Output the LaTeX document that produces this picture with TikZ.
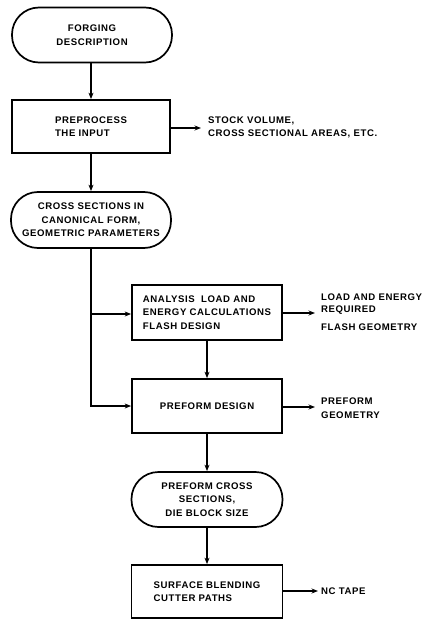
\documentclass[tikz,border=0pt]{standalone}
\usepackage{fontspec}
\setmainfont{Liberation Sans}[LetterSpace=6]
\usetikzlibrary{arrows.meta}
\begin{document}
\begin{tikzpicture}[x=1pt,y=-1pt,
  every node/.style={font=\fontsize{9.6}{13.5}\selectfont\bfseries, inner sep=0pt},
  term/.style={draw, line width=1.7pt, rectangle, rounded corners=27pt, align=center},
  proc/.style={draw, line width=1.7pt, rectangle, align=left},
  outlbl/.style={anchor=west, align=left},
  arr/.style={line width=1.7pt, -{Stealth[length=6.5pt,width=5pt]}}]
  \useasboundingbox (0,0) rectangle (427,620);

  % main column
  \node[term, minimum width=160pt, minimum height=55pt] (t1) at (92,35) {FORGING\\DESCRIPTION};
  \node[proc, minimum width=158pt, minimum height=53pt] (b2) at (91,126.5) {PREPROCESS\\THE INPUT};
  \node[term, minimum width=160pt, minimum height=56pt] (t3) at (91,220) {CROSS SECTIONS IN\\CANONICAL FORM,\\GEOMETRIC PARAMETERS};
  \node[proc, minimum width=150pt, minimum height=55pt] (ana) at (207,312.5) {ANALYSIS \ LOAD AND\\ENERGY CALCULATIONS\\FLASH DESIGN};
  \node[proc, minimum width=150pt, minimum height=54pt] (pre) at (207,406) {PREFORM DESIGN};
  \node[term, minimum width=151pt, minimum height=55pt] (t4) at (207,499.5) {PREFORM CROSS\\SECTIONS,\\DIE BLOCK SIZE};
  \node[proc, minimum width=151pt, minimum height=53pt] (b5) at (207,591.5) {SURFACE BLENDING\\CUTTER PATHS};

  % side outputs
  \node[outlbl] (o2) at (208,127.5) {STOCK VOLUME,\\CROSS SECTIONAL AREAS, ETC.};
  \node[outlbl, font=\fontsize{9.6}{12.5}\selectfont\bfseries] (o4a) at (321,304) {LOAD AND ENERGY\\REQUIRED};
  \node[outlbl] (o4b) at (321,327) {FLASH GEOMETRY};
  \node[outlbl] (o5) at (321,408) {PREFORM\\GEOMETRY};
  \node[outlbl] (o7) at (321,591) {NC TAPE};

  % vertical flow
  \draw[arr] (t1.south -| b2.north) -- (b2.north);
  \draw[arr] (b2.south) -- (t3.north);
  \draw[arr] (t3.south) |- (pre.west);
  \coordinate (br) at (91,314);
  \draw[arr] (br) -- (br -| ana.west);
  \draw[arr] (ana.south) -- (pre.north);
  \draw[arr] (pre.south) -- (t4.north);
  \draw[arr] (t4.south) -- (b5.north);

  % outputs
  \coordinate (e2) at (201,128);
  \coordinate (e4) at (315,313);
  \coordinate (e5) at (315,407);
  \coordinate (e7) at (318,591);
  \draw[arr] (b2.east |- e2) -- (e2);
  \draw[arr] (ana.east |- e4) -- (e4);
  \draw[arr] (pre.east |- e5) -- (e5);
  \draw[arr] (b5.east |- e7) -- (e7);
\end{tikzpicture}
\end{document}
